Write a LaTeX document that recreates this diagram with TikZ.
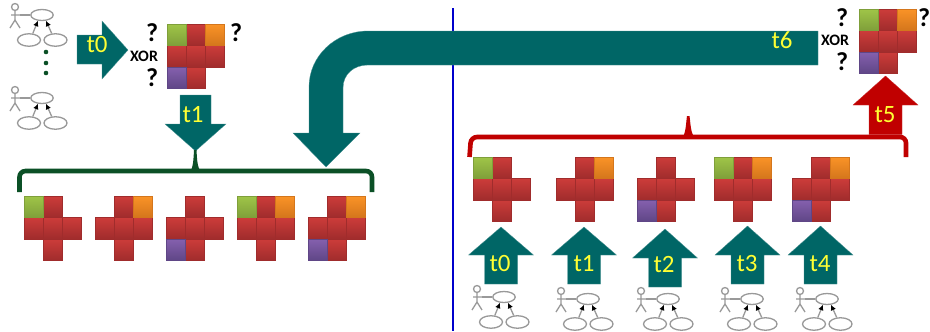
\documentclass[tikz,border=0pt]{standalone}
\usepackage{fontspec}
\setmainfont{Carlito}
\usetikzlibrary{arrows.meta,shapes.geometric}
\definecolor{teal1}{HTML}{006666}
\definecolor{dgreen}{HTML}{0B5026}
\definecolor{dred}{HTML}{C00000}
\definecolor{lineblue}{HTML}{0000CC}
\definecolor{ygreen}{HTML}{FFFF33}
\definecolor{ugray}{HTML}{999999}
\tikzset{
  blockarrow/.style={fill=teal1,draw=teal1!70!white,line width=.3bp},
  redblock/.style={fill=dred,draw=dred!80!white,line width=.3bp},
  tlabel/.style={text=ygreen,font=\fontsize{25}{25}\selectfont,inner sep=0pt},
  xorlabel/.style={font=\bfseries\fontsize{16}{16}\selectfont,inner sep=0pt},
  qlabel/.style={font=\bfseries\fontsize{26}{26}\selectfont,inner sep=0pt},
  bracketline/.style={line width=4.6bp,line cap=butt,rounded corners=6bp},
  ucase/.style={ellipse,draw=ugray,line width=1.3bp,fill=white,inner sep=0pt},
  uline/.style={draw=ugray,line width=1.3bp},
  uarrow/.style={uline,-{Latex[black,length=5.5bp,width=5.5bp]}},
  cdot/.style={circle,fill=dgreen,inner sep=0pt,minimum size=4.6bp},
}
\definecolor{cellredT}{HTML}{CC3C3A}
\definecolor{cellredB}{HTML}{A02C2C}
\definecolor{greenT}{HTML}{9FC548}
\definecolor{greenB}{HTML}{7F9F3A}
\definecolor{orangeT}{HTML}{FA9327}
\definecolor{orangeB}{HTML}{D4761C}
\definecolor{purpleT}{HTML}{8560AE}
\definecolor{purpleB}{HTML}{5F4686}
\newcommand{\pshadow}[5]{\fill[black!20] (#1+.6,#2+.9) rectangle ++(#3,#4);}
\newcommand{\pface}[5]{\shade[top color=#5T,bottom color=#5B,draw=#5B,line width=.3bp] (#1,#2) rectangle ++(#3,#4);}
\def\nonecell{none}
\newcommand{\optcell}[3]{% x y colour or none
  \def\tmpc{#3}\ifx\tmpc\nonecell\else\pcell{#1}{#2}{19}{21.5}{#3}\fi
}
\newcommand{\piecebody}[5]{% x y tl tr bl
  \pcell{#1+19}{#2}{19}{21.5}{cellred}
  \pcell{#1}{#2+21.5}{19}{21.5}{cellred}
  \pcell{#1+19}{#2+21.5}{19}{21.5}{cellred}
  \pcell{#1+38}{#2+21.5}{19}{21.5}{cellred}
  \pcell{#1+19}{#2+43}{19}{21.5}{cellred}
  \optcell{#1}{#2}{#3}
  \optcell{#1+38}{#2}{#4}
  \optcell{#1}{#2+43}{#5}
}
\newcommand{\piece}[5]{%
  \let\pcell\pshadow\piecebody{#1}{#2}{#3}{#4}{#5}%
  \let\pcell\pface\piecebody{#1}{#2}{#3}{#4}{#5}%
}
\newcommand{\usecase}[3]{% prefix dx dy
  \begin{scope}[shift={(#2,#3)}]
    \node[circle,draw=ugray,line width=1.3bp,inner sep=0pt,minimum size=7bp] (#1h) at (15,7) {};
    \coordinate (#1hip) at (15,20);
    \coordinate (#1la) at (11,15);
    \coordinate (#1ra) at (20,15);
    \coordinate (#1ll) at (10,28);
    \coordinate (#1rl) at (20,28);
    \draw[uline] (#1h) -- (#1hip) (#1ll) -- (#1hip) -- (#1rl) (#1la) -- (#1ra);
    \node[ucase,minimum width=22.5bp,minimum height=11bp] (#1m) at (42,15) {};
    \node[ucase,minimum width=23bp,minimum height=12.5bp] (#1a) at (29,40) {};
    \node[ucase,minimum width=23bp,minimum height=12.5bp] (#1b) at (55.5,40) {};
    \draw[uline] (#1ra) -- (#1m);
    \draw[uarrow] (#1a.60) -- (#1m.235);
    \draw[uarrow] (#1b.120) -- (#1m.305);
  \end{scope}
}
\newcommand{\uparr}[5]{% style tipx tipy basey bottom
  \draw[#1] (#2,#3) -- (#2+32.5,#4) -- (#2+16.5,#4) -- (#2+16.5,#5) -- (#2-16.5,#5) -- (#2-16.5,#4) -- (#2-32.5,#4) -- cycle;
}
\begin{document}
\begin{tikzpicture}[x=1bp,y=-1bp]
\useasboundingbox (0,0) rectangle (930,331);
\fill[white] (0,0) rectangle (930,331);
% divider
\coordinate (divtop) at (453,8);
\coordinate (divbot) at (453,331);
\draw[lineblue,line width=2bp] (divtop) -- (divbot);
% actors
\usecase{ua}{0}{0}
\usecase{ub}{0}{83}
\usecase{uc}{462}{282}
\usecase{ud}{546}{284}
\usecase{ue}{626}{284}
\usecase{uf}{710}{284}
\usecase{ug}{785}{284}
\node[cdot] (d1) at (46,52) {};
\node[cdot] (d2) at (46,63) {};
\node[cdot] (d3) at (46,73) {};
% t0 arrow top
\draw[blockarrow] (77,35) -- (102,35) -- (102,21) -- (128,50) -- (102,79) -- (102,64) -- (77,64) -- cycle;
\node[tlabel] (lt0) at (97,45) {t0};
% question group left
\piece{167}{24}{green}{orange}{purple}
\node[qlabel] (q1) at (152,33) {?};
\node[qlabel] (q2) at (236,33) {?};
\node[qlabel] (q3) at (152,78) {?};
\node[xorlabel] (x1) at (144,56) {XOR};
% t1 arrow
\draw[blockarrow] (180,95) -- (211,95) -- (211,124) -- (226,124) -- (195.5,151) -- (165,124) -- (180,124) -- cycle;
\node[tlabel] (lt1) at (193,115) {t1};
% green bracket
\draw[dgreen,bracketline] (19.5,192) -- (19.5,171) -- (372,171) -- (372,192);
\fill[dgreen] (190,172) .. controls (193,168) and (193.5,160) .. (194,150) -- (196.5,150) .. controls (197,160) and (197.5,168) .. (201,172) -- cycle;
% big arrow
\draw[blockarrow] (818,31) -- (368,31) .. controls (335.5,31) and (309,56) .. (309,87) -- (309,133) -- (293,133) -- (326,167) -- (360,133) -- (343,133) -- (343,88) .. controls (343,74) and (354,65) .. (368,65) -- (818,65) -- cycle;
\node[tlabel] (lt6) at (782,40) {t6};
% bottom left pieces
\piece{24}{196}{green}{none}{none}
\piece{95}{196}{none}{orange}{none}
\piece{166}{196}{none}{none}{purple}
\piece{237}{196}{green}{orange}{none}
\piece{308}{196}{none}{orange}{purple}
% right pieces
\piece{473}{157}{green}{none}{none}
\piece{556}{157}{none}{orange}{none}
\piece{637}{157}{none}{none}{purple}
\piece{714}{157}{green}{orange}{none}
\piece{792}{157}{none}{orange}{purple}
% red bracket
\draw[dred,bracketline] (469.5,157) -- (471,137) -- (906,137) -- (906,157);
\fill[dred] (682,138) .. controls (686,134) and (686,122) .. (687,116) -- (689.5,116) .. controls (690.5,122) and (690.5,134) .. (695,138) -- cycle;
% top right piece
\piece{859}{9}{green}{orange}{purple}
\node[qlabel] (q4) at (842,18) {?};
\node[qlabel] (q5) at (924,18) {?};
\node[qlabel] (q6) at (842,62) {?};
\node[xorlabel] (x2) at (835,40) {XOR};
% t5
\uparr{redblock}{885.5}{76}{105}{134.5}
\node[tlabel] (lt5) at (885,115) {t5};
% up arrows
\uparr{blockarrow}{501}{227}{255}{284}
\node[tlabel] (b0) at (500,264) {t0};
\uparr{blockarrow}{584}{227}{255}{284}
\node[tlabel] (b1) at (584,264) {t1};
\uparr{blockarrow}{665}{229}{258}{287}
\node[tlabel] (b2) at (664,265) {t2};
\uparr{blockarrow}{747.5}{226}{255}{284}
\node[tlabel] (b3) at (747,264) {t3};
\uparr{blockarrow}{820.5}{226}{255}{284}
\node[tlabel] (b4) at (820,264) {t4};
\end{tikzpicture}
\end{document}
